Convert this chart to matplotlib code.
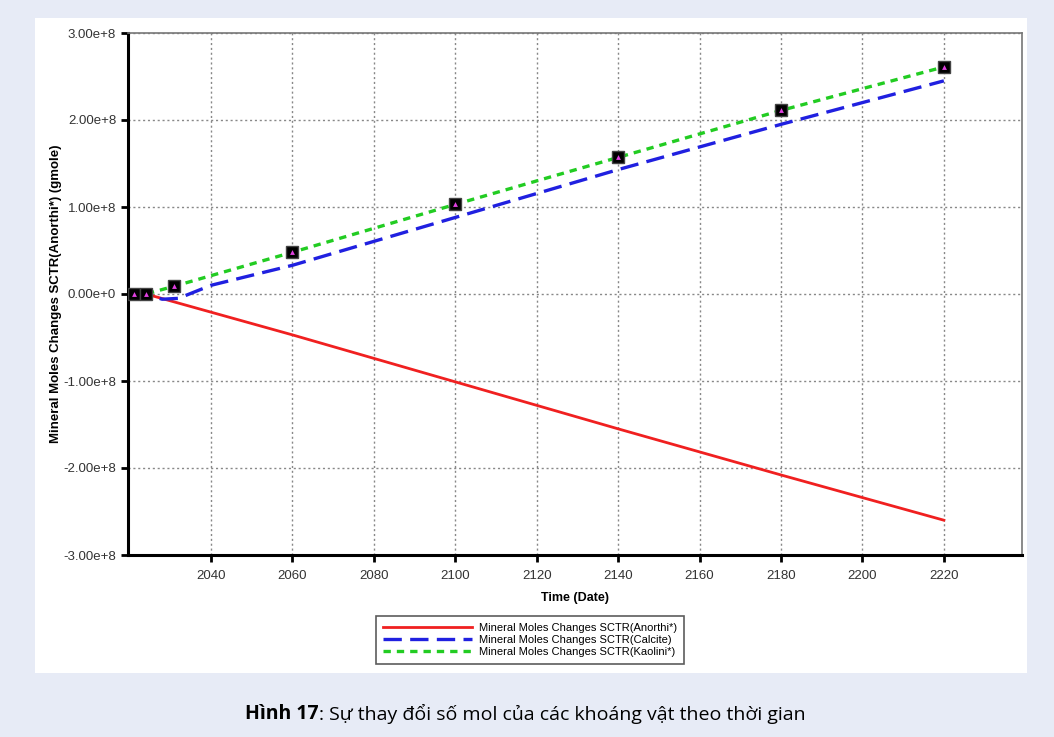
import matplotlib.pyplot as plt
from matplotlib.patches import Rectangle
from matplotlib.ticker import FuncFormatter

# Datos
anorthi_years = [2021, 2024, 2060, 2100, 2140, 2180, 2220]
anorthi_vals = [0.0, 0.0, -0.47e8, -1.01e8, -1.55e8, -2.08e8, -2.60e8]

calcite_years = [2021, 2024, 2028, 2032, 2040, 2060, 2100, 2140, 2180, 2220]
calcite_vals = [0.0, 0.0, -0.06e8, -0.05e8, 0.10e8, 0.33e8, 0.88e8, 1.43e8, 1.95e8, 2.45e8]

kaolini_years = [2021, 2024, 2031, 2060, 2100, 2140, 2180, 2220]
kaolini_vals = [0.0, 0.0, 0.09e8, 0.48e8, 1.03e8, 1.57e8, 2.11e8, 2.61e8]

x_ticks = [2040, 2060, 2080, 2100, 2120, 2140, 2160, 2180, 2200, 2220]
y_ticks = [-3e8, -2e8, -1e8, 0, 1e8, 2e8, 3e8]

labels = [
    "Mineral Moles Changes SCTR(Anorthi*)",
    "Mineral Moles Changes SCTR(Calcite)",
    "Mineral Moles Changes SCTR(Kaolini*)",
]
caption_bold = "Hình 17"
caption_rest = ": Sự thay đổi số mol của các khoáng vật theo thời gian"

plt.rcParams["font.family"] = ["Liberation Sans", "DejaVu Sans"]

fig = plt.figure(figsize=(10.54, 7.37), dpi=100)
fig.patch.set_facecolor("#e7ebf6")
fig.patches.append(Rectangle((35 / 1054, 1 - 673 / 737), 992 / 1054, 655 / 737,
                             transform=fig.transFigure, facecolor="white",
                             edgecolor="none", zorder=-5))

ax = fig.add_axes([128 / 1054, 1 - 555 / 737, 894 / 1054, 522 / 737])
ax.set_facecolor("white")

ax.plot(anorthi_years, anorthi_vals, color="#f02020", lw=2, label=labels[0], zorder=3)
ax.plot(calcite_years, calcite_vals, color="#2020e0", lw=2.4, dashes=(5.5, 2.5),
        label=labels[1], zorder=3)
ax.plot(kaolini_years, kaolini_vals, color="#22cc22", lw=2.4, dashes=(2.2, 1.8),
        label=labels[2], zorder=3)

# marcadores superpuestos (cuadrado negro + triángulo magenta)
ax.plot(kaolini_years, kaolini_vals, ls="none", marker="s", ms=8,
        mfc="black", mec="#444444", zorder=4)
ax.plot(kaolini_years, kaolini_vals, ls="none", marker="^", ms=3.5,
        mfc="#e040e0", mec="none", zorder=5)

ax.set_xlim(2019.6, 2239.2)
ax.set_ylim(-3e8, 3e8)
ax.set_xticks(x_ticks)
ax.set_yticks(y_ticks)


def fmt(v, pos):
    if v == 0:
        return "0.00e+0"
    s = f"{v:.2e}"
    mant, exp = s.split("e")
    return f"{mant}e{'+' if int(exp) >= 0 else '-'}{abs(int(exp))}"


ax.yaxis.set_major_formatter(FuncFormatter(fmt))
ax.tick_params(axis="both", direction="out", length=5, width=2,
               labelsize=9.5, colors="black", labelcolor="#333333")
ax.tick_params(axis="x", pad=6)

ax.grid(True, color="#888888", linestyle=(0, (1.5, 2)), linewidth=1)
ax.set_axisbelow(True)

for side in ["left", "bottom"]:
    ax.spines[side].set_linewidth(2.2)
    ax.spines[side].set_color("black")
for side in ["top", "right"]:
    ax.spines[side].set_linewidth(1.2)
    ax.spines[side].set_color("#777777")

ax.set_xlabel("Time (Date)", fontsize=9, fontweight="bold", labelpad=7)
ax.set_ylabel("Mineral Moles Changes SCTR(Anorthi*) (gmole)", fontsize=9.5,
              fontweight="bold", labelpad=1)

leg = fig.legend(loc="center", bbox_to_anchor=(530 / 1054, 1 - 640 / 737),
                 fontsize=8, frameon=True, fancybox=False, handlelength=8,
                 borderpad=0.6, labelspacing=0.2, handletextpad=0.6)
leg.get_frame().set_edgecolor("#333333")
leg.get_frame().set_linewidth(1.2)

t1 = fig.text(245 / 1054, 1 - 714 / 737, caption_bold, fontsize=14,
              fontweight="bold", va="center", ha="left",
              family=["Open Sans", "DejaVu Sans"])
ax.annotate(caption_rest, xy=(1, 0.5), xycoords=t1, va="center", ha="left",
            fontsize=14, family=["Open Sans", "DejaVu Sans"],
            annotation_clip=False)

fig.savefig("out.png", dpi=100, facecolor=fig.get_facecolor())
